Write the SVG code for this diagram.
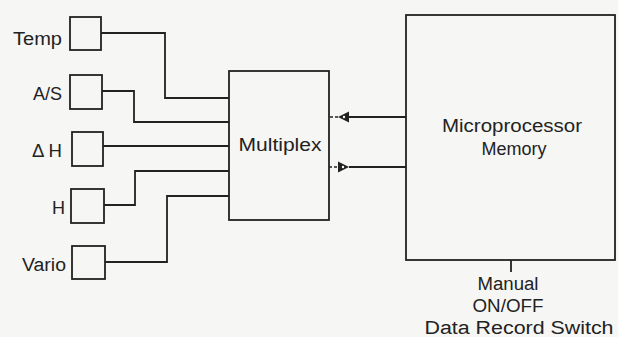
<svg xmlns="http://www.w3.org/2000/svg" width="618" height="337" viewBox="0 0 618 337">
<style>
.box{fill:none;stroke:#222;stroke-width:1.8}
.ln{fill:none;stroke:#222;stroke-width:1.8}
.dash{fill:none;stroke:#222;stroke-width:1.6;stroke-dasharray:3 2}
.head{fill:#222}
.dot{fill:#fff}
text{font-family:"Liberation Sans",Arial,sans-serif;font-size:18px;fill:#222}
</style>
<rect width="618" height="337" fill="#f6f6f4"/>
<g id="temp">
<rect class="box" x="70" y="17" width="31" height="33"/>
<text x="62" y="45" text-anchor="end" textLength="49" lengthAdjust="spacingAndGlyphs">Temp</text>
</g>
<g id="as">
<rect class="box" x="70" y="75" width="32" height="34"/>
<text x="62" y="100" text-anchor="end" textLength="29" lengthAdjust="spacingAndGlyphs">A/S</text>
</g>
<g id="dh">
<rect class="box" x="72" y="132" width="31" height="34"/>
<text x="62" y="157" text-anchor="end" textLength="30" lengthAdjust="spacingAndGlyphs">Δ H</text>
</g>
<g id="h">
<rect class="box" x="71" y="189" width="33" height="34"/>
<text x="65" y="214" text-anchor="end">H</text>
</g>
<g id="vario">
<rect class="box" x="72" y="246" width="33" height="33"/>
<text x="66" y="271" text-anchor="end" textLength="44" lengthAdjust="spacingAndGlyphs">Vario</text>
</g>
<g id="multiplex">
<rect class="box" x="229" y="71" width="100" height="149"/>
<text x="280" y="151" text-anchor="middle" textLength="83" lengthAdjust="spacingAndGlyphs">Multiplex</text>
</g>
<g id="mpu">
<rect class="box" x="406" y="15" width="209" height="245"/>
<text x="512" y="132" text-anchor="middle" font-size="19" textLength="140" lengthAdjust="spacingAndGlyphs">Microprocessor</text>
<text x="514" y="155" text-anchor="middle" font-size="19" textLength="65" lengthAdjust="spacingAndGlyphs">Memory</text>
</g>
<g id="switch">
<text x="508" y="290" text-anchor="middle" textLength="61" lengthAdjust="spacingAndGlyphs">Manual</text>
<text x="508" y="312" text-anchor="middle" textLength="71" lengthAdjust="spacingAndGlyphs">ON/OFF</text>
<text x="519" y="334" text-anchor="middle" textLength="189" lengthAdjust="spacingAndGlyphs">Data Record Switch</text>
</g>
<g id="connectors">
<polyline class="ln" points="101,33 165,33 165,98 229,98"/>
<polyline class="ln" points="102,91 134,91 134,122 229,122"/>
<polyline class="ln" points="103,146 229,146"/>
<polyline class="ln" points="104,205 135,205 135,171 229,171"/>
<polyline class="ln" points="105,262 167,262 167,196 229,196"/>
<line class="ln" x1="406" y1="117" x2="349" y2="117"/>
<path class="head" d="M338,117 L349,111.5 L349,122.5 Z"/>
<circle class="dot" cx="344" cy="117" r="1.2"/>
<line class="dash" x1="338" y1="117" x2="329" y2="117"/>
<line class="dash" x1="329" y1="167" x2="338" y2="167"/>
<line class="ln" x1="349" y1="167" x2="406" y2="167"/>
<path class="head" d="M349,167 L338,161.5 L338,172.5 Z"/>
<circle class="dot" cx="343" cy="167" r="1.2"/>
<line class="ln" x1="511" y1="260" x2="511" y2="272"/>
</g>
</svg>
